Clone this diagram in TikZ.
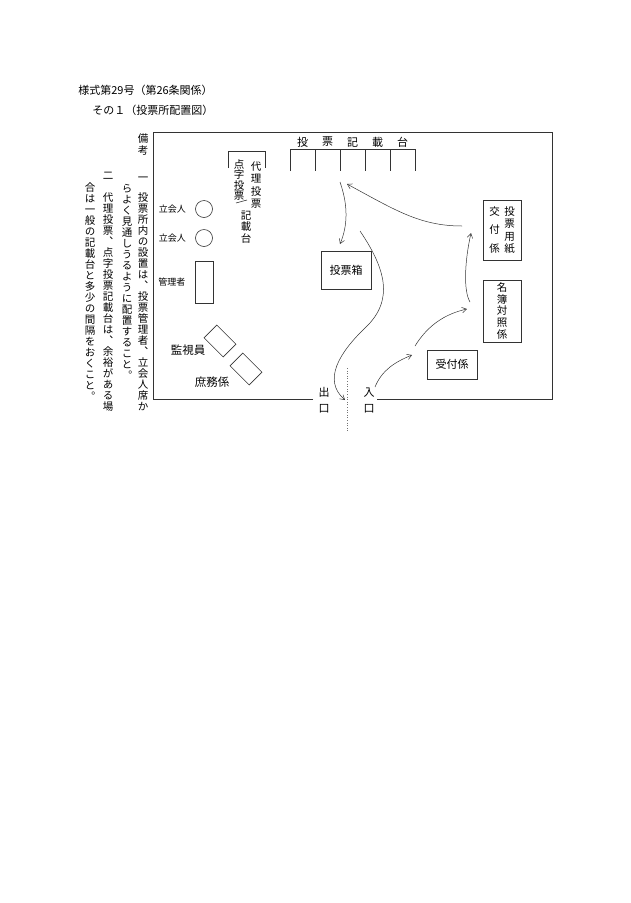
\documentclass[tikz,border=0pt]{standalone}
\usepackage{fontspec}
\setmainfont{Noto Sans CJK JP}
\usetikzlibrary{positioning,arrows.meta}

% vertical text: one character per line, vertical forms of 、 and 。 from the font
\newcommand\vchar[1]{\hbox to 1em{\vrule height .88em depth .12em width 0pt\hss#1\hss}}
\def\vtloop#1{\ifx#1\relax\else\vchar{#1}\expandafter\vtloop\fi}
\newcommand\vtext[2][11pt]{\vtop{\addfontfeature{RawFeature=+vert}%
  \baselineskip=#1\lineskiplimit=-100pt\lineskip=0pt\vtloop#2\relax}}

\begin{document}
\begin{tikzpicture}[x=1pt,y=-1pt,line width=0.6pt,
    lbl/.style={inner sep=0pt,font=\fontsize{11}{12}\selectfont},
    sml/.style={inner sep=0pt,font=\fontsize{9}{10}\selectfont},
    vt/.style={inner sep=0pt,anchor=north,font=\fontsize{10.5}{11}\selectfont},
    desk/.style={draw=black!80,rectangle,inner sep=0pt,minimum width=27pt,minimum height=18pt,rotate=-45},
    seat/.style={draw=black!80,circle,inner sep=0pt,minimum size=17pt},
    flow/.style={draw=black!80,-{Straight Barb[length=4.5pt,width=5.5pt]},line width=0.5pt}]
    \useasboundingbox (0,0) rectangle (630,903);

    % Heading
    \node [lbl,anchor=west] (title) at (78,90) {様式第29号（第26条関係）};
    \node [lbl,anchor=west] (sub) at (92,110) {その１（投票所配置図）};

    % Remarks, written top to bottom, columns right to left
    \node [vt] (bk) at (143,132.5) {\vtext[12pt]{備考}};
    \node [vt] (n1) at (143,171.5) {\vtext{一}};
    \node [vt] (n1a) at (143,191.5) {\vtext{投票所内の設置は、投票管理者、立会人席か}};
    \node [vt] (n1b) at (127,183) {\vtext{らよく見通しうるように配置すること。}};
    \node [vt] (n2) at (108,170) {\vtext{二}};
    \node [vt] (n2a) at (108,191.5) {\vtext{代理投票、点字投票記載台は、余裕がある場}};
    \node [vt] (n2b) at (90,181.5) {\vtext{合は一般の記載台と多少の間隔をおくこと。}};

    % Room, open at the bottom for exit and entrance
    \coordinate (EXL) at (313,399);
    \coordinate (ENR) at (377,399);
    \draw [black!80] (EXL) -- (153,399) -- (153,132) -- (552,132) -- (552,399) -- (ENR);

    % Voting booths
    \draw [black!80] (290,171) -- (290,149) -- (415,149) -- (415,171);
    \foreach \x in {315,340,365,390}
        \draw [black!80] (\x,149) -- (\x,171);
    \foreach \c [count=\i] in {投,票,記,載,台}
        \node [lbl] (tb\i) at (277.5+25*\i,142) {\c};

    % Booth for proxy / braille voting
    \draw [black!80] (228,168) -- (228,151) -- (265,151) -- (265,168);
    \node [vt] (px1) at (256,160.5) {\vtext[12.5pt]{代理投票}};
    \node [vt] (px2) at (239,158.5) {\vtext[10.5pt]{点字投票}};
    \draw [black!80] (236,203) -- (247,200);
    \node [vt] (px3) at (246,209.5) {\vtext[11.5pt]{記載台}};

    % Witnesses and manager
    \node [seat] (W1) at (204,209) {};
    \node [seat] (W2) at (204,238) {};
    \node [sml,left=9pt of W1] (W1l) {立会人};
    \node [sml,left=9pt of W2] (W2l) {立会人};
    \node [draw=black!80,inner sep=0pt,minimum width=18pt,minimum height=42pt] (MGR) at (204,282) {};
    \node [sml,left=9pt of MGR] (MGRl) {管理者};

    % Supervisor and clerk desks
    \node [desk] (D1) at (220,341) {};
    \node [desk] (D2) at (246,369) {};
    \node [lbl,font=\fontsize{11.5}{12}\selectfont] (MONl) at (188,350) {監視員};
    \node [lbl,font=\fontsize{11.5}{12}\selectfont] (CLKl) at (212,382) {庶務係};

    % Ballot box and desks on the right
    \node [lbl,draw=black!80,minimum width=50pt,minimum height=38pt] (BOX) at (346,270) {投票箱};
    \node [vt,anchor=center,draw=black!80,minimum width=38pt,minimum height=60pt] (ISS) at (502,230)
        {\vtext[18.5pt]{交付係}\kern4.5pt\vtext[12.4pt]{投票用紙}};
    \node [vt,anchor=center,draw=black!80,minimum width=38pt,minimum height=62pt] (ROLL) at (502,311)
        {\vtext[11.7pt]{名簿対照係}};
    \node [lbl,draw=black!80,minimum width=50pt,minimum height=29pt] (REC) at (452,364.5) {受付係};

    % Exit and entrance
    \node [vt,font=\fontsize{11}{12}\selectfont] (OUT) at (324,386.5) {\vtext[16pt]{出口}};
    \node [vt,font=\fontsize{11}{12}\selectfont] (IN) at (369,386.5) {\vtext[16pt]{入口}};
    \coordinate (GT) at (347,368);
    \coordinate (GB) at (347,432);
    \draw [dotted,black!55] (GT) -- (GB);

    % Flow of voters
    \coordinate (p1) at (375,387);
    \coordinate (p2) at (412,355);
    \coordinate (p3) at (415,346);
    \coordinate (p4) at (467,309);
    \coordinate (p5) at (470,302);
    \coordinate (p6) at (471,233);
    \coordinate (p7) at (462,226);
    \coordinate (p8) at (347,184);
    \coordinate (p9) at (340,182);
    \coordinate (p10) at (340,244);
    \coordinate (p11) at (360,231);
    \coordinate (p12) at (345,400);
    \draw [flow] (p1) .. controls (382,370) and (395,362) .. (p2);
    \draw [flow] (p3) .. controls (428,325) and (445,314) .. (p4);
    \draw [flow] (p5) .. controls (463,290) and (465,260) .. (p6);
    \draw [flow] (p7) .. controls (420,226) and (395,210) .. (p8);
    \draw [flow] (p9) .. controls (348,205) and (348,225) .. (p10);
    \draw [flow] (p11) .. controls (385,268) and (395,300) .. (365,328)
        .. controls (340,352) and (322,380) .. (p12);
\end{tikzpicture}
\end{document}
